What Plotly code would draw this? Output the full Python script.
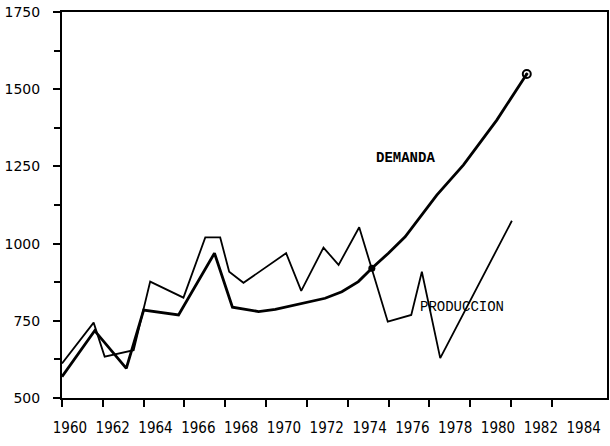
import plotly.graph_objects as go

# Production (thin line) - year positions
prod_years = [1960.0, 1961.55, 1962.09, 1963.51, 1964.32, 1965.95, 1967.02, 1967.75,
              1968.19, 1968.89, 1970.98, 1971.72, 1972.81, 1973.55, 1974.56, 1975.96,
              1977.11, 1977.63, 1978.53, 1982.04]
prod_vals = [612, 744, 634, 655, 877, 825, 1020, 1020, 909, 873, 969, 847, 987, 931,
             1053, 747, 769, 909, 629, 1074]

# Demand (thick line)
dem_years = [1960.0, 1961.6, 1963.15, 1964.0, 1965.71, 1967.47, 1968.35, 1969.63,
             1970.45, 1972.08, 1972.89, 1973.71, 1974.52, 1975.18, 1975.99, 1976.81,
             1978.36, 1979.67, 1981.3, 1982.77]
dem_vals = [569, 718, 596, 785, 769, 969, 794, 780, 787, 812, 823, 844, 877, 920,
            969, 1022, 1157, 1255, 1400, 1549]

tick_years = list(range(1960, 1986, 2))
tick_labels = [str(y) for y in tick_years]
y_ticks = [500, 750, 1000, 1250, 1500, 1750]

fig = go.Figure()
fig.add_trace(go.Scatter(x=prod_years, y=prod_vals, mode="lines",
                         line=dict(color="black", width=1.8), showlegend=False))
fig.add_trace(go.Scatter(x=dem_years, y=dem_vals, mode="lines",
                         line=dict(color="black", width=2.8), showlegend=False))
fig.add_trace(go.Scatter(x=[dem_years[13]], y=[dem_vals[13]], mode="markers",
                         marker=dict(color="black", size=7), showlegend=False))
fig.add_trace(go.Scatter(x=[dem_years[-1]], y=[dem_vals[-1]], mode="markers",
                         marker=dict(color="black", size=8, symbol="circle-open-dot",
                                     line=dict(width=2)), showlegend=False))
# invisible trace to activate label axis
fig.add_trace(go.Scatter(x=[1970], y=[1000], xaxis="x2", mode="markers",
                         marker=dict(opacity=0), showlegend=False, hoverinfo="skip"))

fig.update_layout(
    width=610, height=446,
    margin=dict(l=62, r=3, t=12, b=48),
    paper_bgcolor="white", plot_bgcolor="white",
    xaxis=dict(range=[1960.0, 1986.7], tickvals=tick_years, showticklabels=False,
               ticks="outside", ticklen=7, tickwidth=1.5, tickcolor="black",
               showline=True, linecolor="black", linewidth=2, mirror=True,
               showgrid=False, zeroline=False, automargin=False),
    xaxis2=dict(range=[1959.63, 1985.09], overlaying="x", side="bottom",
                tickvals=tick_years, ticktext=tick_labels, tickangle=0,
                ticks="outside", ticklen=16, tickcolor="rgba(0,0,0,0)",
                tickfont=dict(family="DejaVu Sans Condensed, Liberation Sans Narrow, sans-serif",
                              size=15, color="black"),
                showline=False, showgrid=False, zeroline=False, automargin=False),
    yaxis=dict(range=[500, 1750], tickvals=y_ticks,
               ticks="outside", ticklen=7, tickwidth=1.5, tickcolor="black",
               minor=dict(dtick=125, tick0=500, ticks="outside", ticklen=6,
                          tickwidth=1.5, tickcolor="black", showgrid=False),
               ticklabelstandoff=10,
               tickfont=dict(family="DejaVu Sans", size=14, color="black"),
               showline=True, linecolor="black", linewidth=2, mirror=True,
               showgrid=False, zeroline=False, automargin=False),
    annotations=[
        dict(text="<b>DEMANDA</b>", x=0.688, y=0.622, xref="paper", yref="paper",
             showarrow=False, font=dict(family="Liberation Mono", size=14, color="black")),
        dict(text="PRODUCCION", x=0.815, y=0.21, xref="paper", yref="paper",
             showarrow=False, font=dict(family="Liberation Mono", size=14, color="black")),
    ],
)

fig.write_html("out.html", config={"displayModeBar": False},
               post_script="document.body.style.margin='0';document.body.style.overflow='hidden';")
